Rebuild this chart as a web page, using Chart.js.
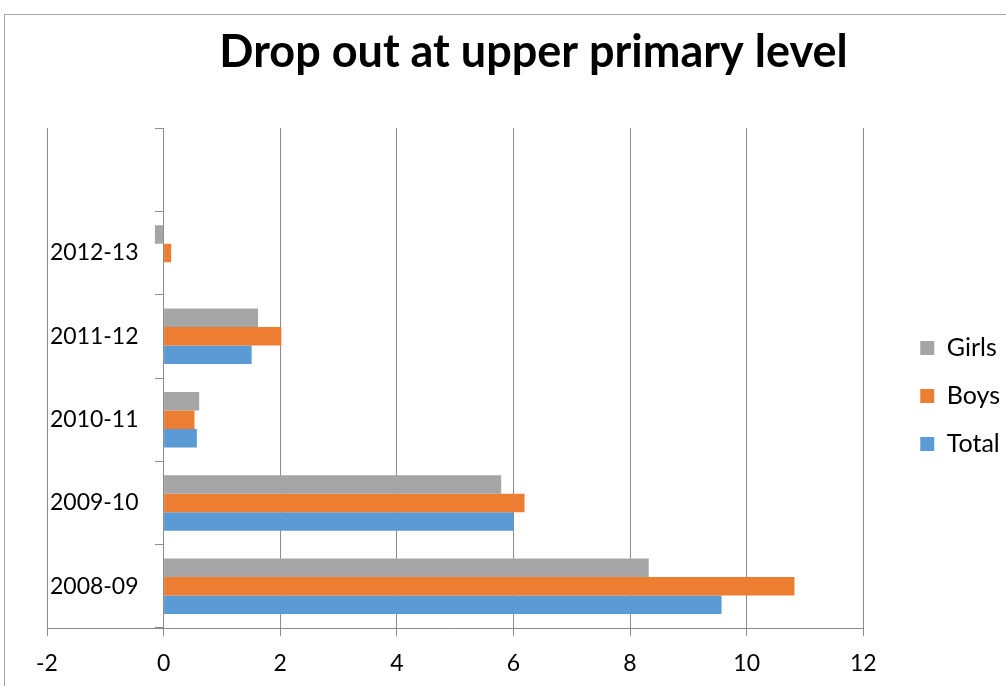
<!DOCTYPE html>
<html>
<head>
<meta charset="utf-8">
<script src="https://cdn.jsdelivr.net/npm/chart.js@4/dist/chart.umd.min.js"></script>
<style>
  html, body { margin: 0; padding: 0; overflow: hidden; background: #fff; }
  #wrap { position: relative; width: 1006px; height: 686px; }
  #frame { position: absolute; left: 4px; top: 14px; width: 1200px; height: 900px;
           border: 1px solid #a6a6a6; box-sizing: border-box; pointer-events: none; }
</style>
</head>
<body>
<div id="wrap">
  <canvas id="c" width="1006" height="686"></canvas>
  <div id="frame"></div>
</div>
<script>
// School years, oldest first (the last slot is an empty row of the sheet)
const years = ['2008-09', '2009-10', '2010-11', '2011-12', '2012-13', ''];
// Drop-out rate at upper primary level, per cent
const total = [9.57, 6.0, 0.57, 1.51, 0, null];
const boys  = [10.82, 6.19, 0.53, 2.02, 0.13, null];
const girls = [8.32, 5.79, 0.61, 1.62, -0.15, null];
// Value axis range and step
const valueMin = -2;
const valueMax = 12;
const valueStep = 2;

const axisGray = '#8c8c8c';
// The category axis crosses at 0; its labels sit a little to the left of it
const categoryCross = 0;
const categoryLabelAnchor = -0.43;

Chart.defaults.font.family = 'Lato, "Open Sans", sans-serif';
Chart.defaults.color = '#000';

// Hidden spacer axis that only reserves room on the right side
const spacer = (width, weight) => ({
  type: 'linear',
  position: 'right',
  display: false,
  weight: weight,
  afterFit: s => { s.width = width; }
});

new Chart(document.getElementById('c'), {
  type: 'bar',
  data: {
    labels: years,
    datasets: [
      { label: 'Girls', data: girls, backgroundColor: '#A5A5A5', yAxisID: 'y', xAxisID: 'x' },
      { label: 'Boys',  data: boys,  backgroundColor: '#ED7D31', yAxisID: 'y', xAxisID: 'x' },
      { label: 'Total', data: total, backgroundColor: '#5B9BD5', yAxisID: 'y', xAxisID: 'x' }
    ]
  },
  options: {
    indexAxis: 'y',
    responsive: false,
    animation: false,
    categoryPercentage: 0.666,
    barPercentage: 1,
    layout: { padding: { left: 47, right: -14, top: 0, bottom: 0 } },
    plugins: {
      title: {
        display: true,
        text: 'Drop out at upper primary level',
        color: '#000',
        font: { size: 45, weight: 'bold' },
        padding: { top: 25, bottom: 49 }
      },
      legend: {
        position: 'right',
        fullSize: false,
        title: { display: true, text: '', font: { size: 10 }, padding: { top: 12, bottom: 12 } },
        labels: { boxWidth: 14, boxHeight: 14, padding: 23, color: '#000', font: { size: 25 } }
      },
      tooltip: { enabled: false }
    },
    scales: {
      x: {
        type: 'linear',
        position: 'bottom',
        min: valueMin,
        max: valueMax,
        ticks: { stepSize: valueStep, padding: 14, color: '#000', font: { size: 23 } },
        grid: { color: axisGray, lineWidth: 1, tickLength: 8, tickColor: axisGray },
        border: { color: axisGray },
        afterFit: s => { s.height = 58; }
      },
      y: {
        type: 'category',
        position: { x: categoryCross },
        reverse: true,
        offset: true,
        ticks: { display: false },
        grid: { offset: true, drawOnChartArea: false, tickLength: 8, tickColor: axisGray },
        border: { color: axisGray }
      },
      yLabels: {
        type: 'category',
        axis: 'y',
        position: { x: categoryLabelAnchor },
        reverse: true,
        offset: true,
        ticks: { color: '#000', font: { size: 23 } },
        grid: { display: false },
        border: { display: false }
      },
      gutter: spacer(34, 0),
      gutterOuter: spacer(10, 2000)
    }
  }
});
</script>
</body>
</html>
